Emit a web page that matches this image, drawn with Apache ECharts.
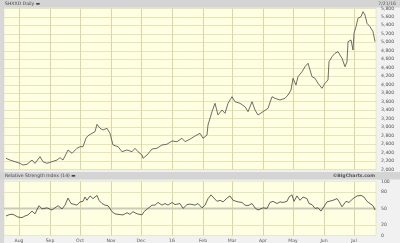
<!DOCTYPE html>
<html><head><meta charset="utf-8">
<script src="https://cdn.jsdelivr.net/npm/echarts@6/dist/echarts.min.js"></script>
<style>html,body{margin:0;padding:0;background:#f1f1f1}#c{width:400px;height:243px}</style>
</head><body><div id="c"></div>
<script>
// x values are calendar days since 2015-08-01
const monthStarts = [0, 31, 61, 92, 122, 153, 184, 213, 244, 274, 305, 335];
const monthLabels = ['Aug', 'Sep', 'Oct', 'Nov', 'Dec', '16', 'Feb', 'Mar', 'Apr', 'May', 'Jun', 'Jul'];
const priceDays = [-13,-9,-4,1,4,8,13,16,21,24,28,33,38,41,44,49,53,58,61,64,67,69,73,76,78,81,84,88,91,94,99,103,108,113,116,119,123,124,128,133,138,143,148,153,158,163,166,171,176,181,184,188,189,193,196,199,203,206,209,213,216,221,226,229,233,236,239,244,249,253,256,261,266,269,272,274,277,279,283,286,289,293,296,299,303,306,309,310,313,316,319,323,326,328,329,332,334,335,337,339,342,344,346,348,351,354,356];
const priceValues = [2268,2228,2188,2150,2110,2127,2228,2150,2306,2188,2150,2188,2228,2283,2228,2464,2386,2504,2542,2542,2739,2800,2857,2895,3069,2975,2935,2975,2857,2582,2542,2424,2464,2424,2504,2424,2346,2268,2346,2487,2504,2582,2600,2676,2660,2740,2660,2720,2793,2857,2739,2817,3052,3366,3563,3288,3406,3328,3563,3719,3601,3563,3483,3366,3601,3406,3288,3366,3446,3719,3681,3641,3681,3759,3877,4152,3994,4190,4307,4425,4505,4190,4152,4034,3916,4034,4112,4543,4661,4741,4778,4623,4425,4543,5014,5054,4818,5212,5367,5565,5603,5720,5642,5447,5367,5249,5014];
const rsiDays = [-13,-9,-6,-1,3,6,9,13,16,20,23,28,33,36,39,43,46,49,52,54,58,61,64,66,68,71,74,78,80,83,86,89,93,96,99,104,108,111,114,118,123,125,129,133,136,139,143,146,149,153,156,161,164,168,171,176,179,183,186,189,192,194,198,201,204,208,211,214,216,219,223,226,229,233,236,239,241,244,248,251,254,258,261,264,268,270,273,275,278,281,284,288,290,293,296,299,302,304,308,310,314,318,320,323,325,327,330,334,338,342,345,348,351,354,356];
const rsiValues = [36,39,39,34,33,36,38,45,40,55,49,51,47,51,55,49,56,69,59,62,56,62,63,71,65,73,68,74,65,59,56,55,44,40,39,38,42,39,44,40,38,44,50,56,56,61,56,59,56,61,57,59,50,57,58,56,59,51,56,68,75,71,63,65,62,69,73,65,67,62,61,56,55,59,51,47,45,51,50,61,63,59,62,61,63,71,75,63,73,65,71,68,59,57,50,51,45,47,62,63,65,68,63,53,50,63,61,68,73,74,71,63,59,55,47];
const rsiLabelValues = [0, 20, 50, 80, 100];
const rsiLevels = [20, 50, 80];
const titleText = 'SHXXD Daily';
const dateText = '7/21/16';
const rsiTitle = 'Relative Strength Index (14)';
const creditText = '\u00A9BigCharts.com';

const FONT = 'DejaVu Sans';
const GRID_LINE = '#e9e4b6';
const chart = echarts.init(document.getElementById('c'), null, {renderer: 'canvas'});

function vLines(params, api) {
  const cs = params.coordSys;
  const x = Math.round(api.coord([api.value(0), api.value(1)])[0]) + 0.5;
  return {type: 'line', shape: {x1: x, y1: cs.y, x2: x, y2: cs.y + cs.height},
    style: {stroke: '#ddd6a2', lineWidth: 1}};
}
function hLines(params, api) {
  const cs = params.coordSys;
  const lvl = api.value(1);
  const y = Math.round(api.coord([api.value(0), lvl])[1]) + 0.5;
  return {type: 'line', shape: {x1: cs.x, y1: y, x2: cs.x + cs.width, y2: y},
    style: lvl === 50 ? {stroke: '#cbcab6', lineWidth: 2} : {stroke: GRID_LINE, lineWidth: 1}};
}

const xBase = {type: 'value', min: -15, max: 357, axisLine: {show: false}, axisTick: {show: false}, splitLine: {show: false}};

chart.setOption({
  animation: false,
  backgroundColor: '#f1f1f1',
  graphic: [
    {type: 'rect', shape: {x: 0, y: 0, width: 4, height: 243}, style: {fill: '#d8d8d8'}, z: -10},
    {type: 'rect', shape: {x: 0, y: 0, width: 400, height: 7.5}, style: {fill: '#d4d4d4'}, z: -10},
    {type: 'rect', shape: {x: 0, y: 172, width: 400, height: 7.5}, style: {fill: '#d4d4d4'}, z: -10},
    {type: 'text', left: 5, top: 1, style: {text: titleText + ' \u25AC', fontSize: 4.6, fill: '#444', fontFamily: FONT}},
    {type: 'text', right: 4, top: 1, style: {text: dateText, fontSize: 4.6, fill: '#555', fontFamily: FONT}},
    {type: 'text', left: 5, top: 173.5, style: {text: rsiTitle + ' \u25AC', fontSize: 4.6, fill: '#444', fontFamily: FONT}},
    {type: 'text', right: 25, top: 173.5, style: {text: creditText, fontSize: 4.6, fill: '#555', fontFamily: FONT, fontWeight: 'bold'}}
  ],
  grid: [
    {left: 4, right: 24, top: 8.3, height: 161.4, show: true, backgroundColor: '#fefee2', borderColor: '#d8d4b0', borderWidth: 0.5},
    {left: 4, right: 24, top: 181.3, height: 54.4, show: true, backgroundColor: '#fefee2', borderColor: '#d8d4b0', borderWidth: 0.5}
  ],
  xAxis: [
    Object.assign({gridIndex: 0, axisLabel: {show: false}}, xBase),
    Object.assign({gridIndex: 1, axisLabel: {
      customValues: monthStarts,
      formatter: v => { const i = monthStarts.indexOf(v); return i >= 0 ? monthLabels[i] : ''; },
      fontSize: 4.6, color: '#555', fontFamily: FONT, margin: 2.5
    }}, xBase)
  ],
  yAxis: [
    {gridIndex: 0, type: 'value', position: 'right', min: 2000, max: 5800, interval: 200,
      axisLine: {show: false}, axisTick: {show: false},
      splitLine: {show: true, lineStyle: {color: GRID_LINE, width: 1}},
      axisLabel: {fontSize: 4.6, color: '#555', fontFamily: FONT, margin: 5,
        formatter: v => v.toLocaleString('en-US')}},
    {gridIndex: 1, type: 'value', position: 'right', min: 0, max: 100, interval: 10,
      axisLine: {show: false}, axisTick: {show: false}, splitLine: {show: false},
      axisLabel: {fontSize: 4.6, color: '#555', fontFamily: FONT, margin: 5,
        formatter: v => rsiLabelValues.indexOf(v) >= 0 ? String(v) : ''}}
  ],
  series: [
    {type: 'custom', xAxisIndex: 0, yAxisIndex: 0, renderItem: vLines, data: monthStarts.map(d => [d, 3000]), z: 1, silent: true},
    {type: 'custom', xAxisIndex: 1, yAxisIndex: 1, renderItem: vLines, data: monthStarts.map(d => [d, 50]), z: 1, silent: true},
    {type: 'custom', xAxisIndex: 1, yAxisIndex: 1, renderItem: hLines, data: rsiLevels.map(l => [0, l]), z: 1, silent: true},
    {type: 'line', xAxisIndex: 0, yAxisIndex: 0, data: priceDays.map((d, i) => [d, priceValues[i]]),
      showSymbol: false, lineStyle: {color: '#4a4a4a', width: 0.8}, z: 5},
    {type: 'line', xAxisIndex: 1, yAxisIndex: 1, data: rsiDays.map((d, i) => [d, rsiValues[i]]),
      showSymbol: false, lineStyle: {color: '#3c3c3c', width: 0.8}, z: 5}
  ]
});
</script></body></html>
